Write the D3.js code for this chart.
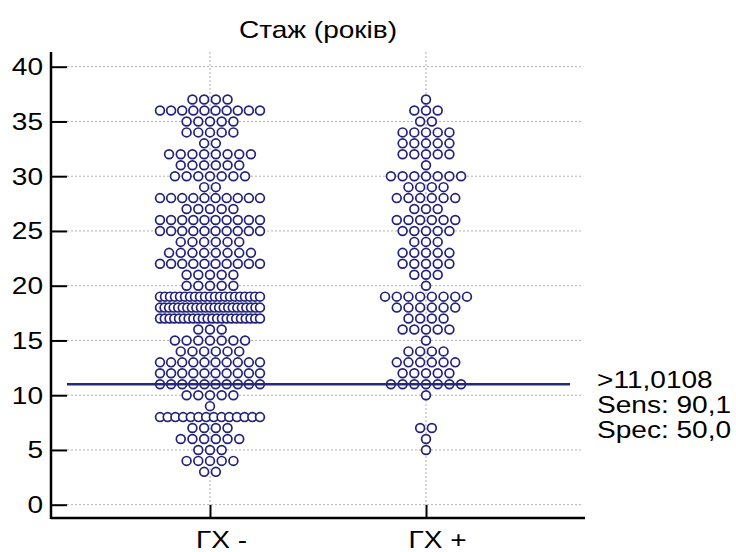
<!DOCTYPE html>
<html>
<head>
  <meta charset="utf-8">
  <title>Стаж (років)</title>
  <style>
    body { margin: 0; background: #fff; }
    svg text { font-family: Arial, "Liberation Sans", sans-serif; fill: #000; }
    .grid { stroke: #b0b0b0; stroke-width: 1; stroke-dasharray: 2,2; }
    .dot { fill: #fff; stroke: #23237a; stroke-width: 1.7; }
  </style>
</head>
<body>
  <svg></svg>
  <script src="https://cdnjs.cloudflare.com/ajax/libs/d3/7.8.5/d3.min.js"></script>
  <script>
    var width = 736,
      height = 552;

    // data: dots per whole year, per group
    var groups = ["ГХ -", "ГХ +"];
    var years = [3, 4, 5, 6, 7, 8, 9, 10, 11, 12, 13, 14, 15, 16, 17, 18, 19, 20,
      21, 22, 23, 24, 25, 26, 27, 28, 29, 30, 31, 32, 33, 34, 35, 36, 37];
    var countsNeg = [2, 5, 3, 6, 4, 14, 1, 5, 10, 10, 10, 6, 7, 3, 22, 23, 21, 5,
      5, 10, 8, 6, 10, 10, 5, 10, 2, 7, 6, 8, 2, 5, 5, 10, 4];
    var countsPos = [0, 0, 1, 1, 2, 0, 0, 1, 7, 5, 6, 4, 1, 5, 4, 6, 8, 1,
      3, 5, 5, 3, 5, 6, 3, 6, 4, 7, 1, 5, 5, 5, 2, 3, 1];
    var yTicks = [0, 5, 10, 15, 20, 25, 30, 35, 40];
    var cutoff = 11.0108;
    var cutoffLabels = [">11,0108", "Sens: 90,1", "Spec: 50,0"];

    var plotL = 51, plotR = 585, plotT = 52, plotB = 518;
    var pitch = 11.7, maxSpan = 100, r = 4.4;
    var fs = 23, sx = 1.22; // text in the picture is a bit wider than Arial

    var svg = d3.select("svg").attr("width", width).attr("height", height);

    var x = d3.scalePoint().domain(groups).range([plotL, plotR]).padding(0.736);
    var y = d3.scaleLinear().domain([0, 40]).range([504.7, 66.7]);

    function label(sel, tx, ty, anchor) {
      sel.attr("x", 0).attr("y", 0).attr("dy", null)
        .attr("font-size", fs + "px")
        .attr("text-anchor", anchor)
        .attr("transform", "translate(" + tx + "," + ty + ") scale(" + sx + ",1)");
    }

    // gridlines
    svg.append("g").selectAll("line").data(yTicks)
      .enter().append("line")
      .attr("class", "grid")
      .attr("x1", plotL + 16).attr("x2", 582)
      .attr("y1", d => y(d)).attr("y2", d => y(d));
    svg.append("g").selectAll("line").data(groups)
      .enter().append("line")
      .attr("class", "grid")
      .attr("x1", d => x(d)).attr("x2", d => x(d))
      .attr("y1", plotT).attr("y2", plotB - 13);

    // dots
    var dots = [];
    [countsNeg, countsPos].forEach(function (counts, gi) {
      counts.forEach(function (n, k) {
        var p = n > 1 && (n - 1) * pitch > maxSpan ? maxSpan / (n - 1) : pitch;
        for (var i = 0; i < n; i++) {
          dots.push({ g: groups[gi], v: years[k], off: (i - (n - 1) / 2) * p });
        }
      });
    });
    svg.append("g").selectAll("circle").data(dots)
      .enter().append("circle")
      .attr("class", "dot")
      .attr("cx", d => x(d.g) + d.off)
      .attr("cy", d => y(d.v))
      .attr("r", r);

    // cutoff line
    svg.append("line")
      .attr("x1", plotL + 16).attr("x2", 570)
      .attr("y1", y(cutoff)).attr("y2", y(cutoff))
      .style("stroke", "#26287a")
      .style("stroke-width", 2.5);

    svg.append("g").selectAll("text").data(cutoffLabels)
      .enter().append("text")
      .text(d => d)
      .each(function (d, i) { label(d3.select(this), 597, 388 + i * 25, "start"); });

    // axes
    var yAxis = d3.axisLeft(y).tickValues(yTicks).tickSizeInner(-16).tickSizeOuter(0);
    var gy = svg.append("g").attr("transform", "translate(" + plotL + ",0)").call(yAxis);
    gy.select(".domain").remove();
    gy.selectAll(".tick line").attr("stroke", "#000").attr("stroke-width", 2);
    gy.selectAll(".tick text").each(function () { label(d3.select(this), -8, 8, "end"); });

    var xAxis = d3.axisBottom(x).tickSizeInner(-13).tickSizeOuter(0);
    var gx = svg.append("g").attr("transform", "translate(0," + plotB + ")").call(xAxis);
    gx.select(".domain").remove();
    gx.selectAll(".tick line").attr("stroke", "#000").attr("stroke-width", 2);
    gx.selectAll(".tick text").each(function () { label(d3.select(this), 11, 30, "middle"); });

    svg.append("line").attr("x1", plotL).attr("x2", plotL).attr("y1", plotT).attr("y2", plotB + 1)
      .style("stroke", "#000").style("stroke-width", 2.5);
    svg.append("line").attr("x1", plotL).attr("x2", plotR).attr("y1", plotB).attr("y2", plotB)
      .style("stroke", "#000").style("stroke-width", 2.5);

    svg.append("text")
      .text("Стаж (років)")
      .call(label, 318, 38, "middle");
  </script>
</body>
</html>
